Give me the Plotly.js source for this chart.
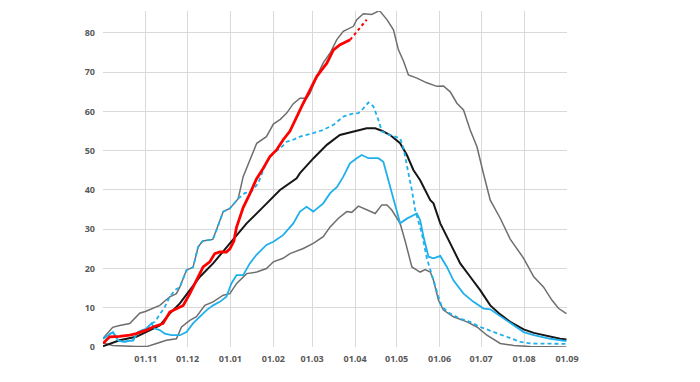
<!DOCTYPE html>
<html>
<head>
<meta charset="utf-8">
<script src="https://cdn.plot.ly/plotly-3.0.1.min.js"></script>
<style>html,body{margin:0;padding:0;background:#fff;}#chart{width:700px;height:382px;}</style>
</head>
<body>
<div id="chart"></div>
<script>
// x values are days since 01.10
const tickDays = [0, 31, 61, 92, 123, 151, 182, 212, 243, 273, 304, 335];
const tickLabels = ['', '01.11', '01.12', '01.01', '01.02', '01.03', '01.04', '01.05', '01.06', '01.07', '01.08', '01.09'];

const maxX = [0,7,12,19.3,26.5,31,41,48.2,53,55.5,60.3,65,68.7,72,79.3,82,86.8,91.6,97.6,101.2,106,111,118,123,128,132.6,137.4,142.2,147,149.5,154.3,159,164,168.8,173.5,180.8,183.2,188,194,199.6,205,209.7,213.3,217,220.5,226.6,233.8,241,245.8,250.7,255.5,260.3,265.1,270,274.8,279.6,286.8,294,303.7,311,318,324.2,329,334.6];
const maxY = [2.2,5,5.5,6,8.6,9.1,10.6,12.8,13.6,15.3,19.6,20.3,25.5,27,27.4,29.8,34.5,35.3,37.8,43.4,47.7,51.9,53.6,56.8,58,59.6,62,63.4,63.4,64.7,68.9,72.4,74.9,78.3,80.4,81.7,83.4,84.9,84.7,85.7,83.4,80.8,75.7,72.8,69.3,68.5,67.3,66.4,66.5,65,62.1,60.4,55.3,51,44,37.4,32.8,27.5,22.6,17.9,15.3,11.9,9.8,8.5];

const minX = [0,7,24,31.4,38.6,45.8,53,56.7,62.7,67.5,73.5,79.5,86.8,91.6,96.5,103.7,111,118,123,130,135,144.6,151.8,159,164,170,176,179.6,184.4,190.5,196.5,201.3,205,208.5,214.5,218,223,226.6,229,232.6,236.3,238.6,242.2,245.8,253,262.8,270,277.2,286.8,296.5,308.5,334.6];
const minY = [1,0.4,0.1,0.1,0.9,1.7,2.1,5.1,6.8,7.7,10.6,11.5,13.2,13.6,16.2,18.7,19.1,20,21.7,22.6,23.8,25.1,26.4,28.1,30.6,32.8,34.5,34.3,35.9,34.9,34,36.2,36.2,34.9,31.5,27.2,20.4,19.6,19.1,19.7,19.1,17,11.9,9.4,7.7,6.4,5.1,3,0.9,0.4,0.1,0];

const meanX = [0,12,24,31.4,41,48.2,55.5,62.7,70,79.5,91.6,103.7,115.7,127.8,139.8,142.2,152,161.6,171,180.8,185.6,190.4,196.5,201.3,207.3,214.5,219.4,224.1,229,236.3,238.6,243.5,250.7,257.9,265.1,272.3,279.6,286.8,294,303.7,311,318,330,334.6];
const meanY = [0.2,1.7,2.6,3.8,5.5,8.5,11.1,14.5,17.9,21.3,26.4,31.5,35.7,40,43,44.3,48.1,51.5,54,54.9,55.3,55.7,55.7,55.1,54,51.9,48.9,45.1,42.5,37.4,36.6,31.5,26.4,21.3,17.9,14.5,10.6,8.3,6.4,4.5,3.6,3,2.1,1.9];

const redX = [0,4.8,12,19.3,24,31.4,36.2,43.4,48.2,53,57.9,62.7,67.5,72.3,77.1,80.7,84.3,89.1,91.6,94.5,96.4,101.2,106,110.8,114.8,120.5,125.3,130.1,135,139.8,144.6,149.5,154.3,157.9,161.6,166.4,171.2,178.5];
const redY = [0.9,2.6,2.7,3,3.4,4.3,5.1,6,8.9,9.8,10.6,13.6,17,20.4,21.7,23.8,24.2,24.2,25,27,30.5,35.5,39,42.8,45,48.5,50.2,52.8,55,58.7,62.1,65.5,68.9,70.6,72.3,75.7,77,78.3];
const redDotX = [178.5,182,186,190.4];
const redDotY = [78.3,79.8,81.6,83.4];

const cyanX = [0,7.2,10.8,14.5,21.7,25.3,31.4,35,37.4,41,44.6,49.4,55.5,60.3,65,70,74.8,79.5,84.3,89.1,92.7,96.4,101.2,106,110.8,118,123,130,137.4,142.2,147,151.8,159,164,169,173.5,178.3,183.2,186.8,191.6,198.8,202.4,207.3,210.9,214.5,219.4,224.1,226.6,229,231.4,235,238.6,243.5,248.3,253,260.3,267.5,274.8,279.6,286.8,294,303.7,311,323,334.6];
const cyanY = [2.1,3.8,1.7,1.3,1.7,3.8,4.7,6,4.7,4.3,3.4,3,3,3.8,6,7.7,9.4,10.6,11.5,12.8,16.2,18.3,18.3,21.3,23.5,26,26.8,28.5,31.5,34.5,35.7,34.5,36.6,39.2,40.8,43.4,46.8,48.1,48.9,48.1,48.1,47.2,40.8,35.7,31.5,32.7,33.6,34,32.3,28.1,23,22.6,23.2,20.4,17,13.6,11.5,9.8,9.6,7.8,6,3.8,3,2.1,1.5];

const dashX = [0,7.2,10.8,14.5,21.7,25.3,31.4,35,37.4,44.6,48.2,52,55.5,60.3,65,68.7,72,79.3,82,86.8,91.6,97.6,102.4,107.2,112,115.7,119.3,123,128,132.6,137.4,142.2,151.8,159,166.4,173.5,179.6,184.4,188,191.6,195.2,198.8,201.3,207.3,214.5,217,220.5,223,225.4,230.2,233.8,236.3,238.6,242.2,244.7,250.7,257.9,265.1,272.3,282,291.6,301.3,308.5,334.6];
const dashY = [2.1,3.8,1.7,1.3,1.7,3.8,4.7,6,6.4,10.2,12.8,14.5,15.3,19.6,20.3,25.5,27,27.4,29.8,34.5,35.3,37.8,39.2,39.6,41.7,45.1,47.7,49.4,50.6,52.3,52.8,53.6,54.5,55.3,56.6,58.7,59.4,59.6,60.8,62.3,61.3,57.9,54.9,54,53.2,50.6,44.3,40,34.9,28.9,22.6,19.6,17,12.8,10.2,8.5,7.2,6.4,5.1,3.8,2.6,1.3,0.9,0.8];

const grey = '#6e6e6e', cyan = '#1fb0ec';
const traces = [
  {x: maxX, y: maxY, mode: 'lines', line: {color: grey, width: 1.5}},
  {x: minX, y: minY, mode: 'lines', line: {color: grey, width: 1.5}},
  {x: meanX, y: meanY, mode: 'lines', line: {color: '#161616', width: 2}},
  {x: cyanX, y: cyanY, mode: 'lines', line: {color: cyan, width: 1.8}},
  {x: dashX, y: dashY, mode: 'lines', line: {color: cyan, width: 1.8, dash: '4px,3px'}},
  {x: redX, y: redY, mode: 'lines', line: {color: '#ff0000', width: 2.8}},
  {x: redDotX, y: redDotY, mode: 'lines', line: {color: '#ff0000', width: 2, dash: 'dot'}}
];

const tickFont = {family: 'Open Sans, Liberation Sans, sans-serif', size: 9, color: '#595959', weight: 'bold'};
const layout = {
  width: 700, height: 382,
  margin: {l: 103, r: 133, t: 11, b: 35},
  paper_bgcolor: '#fff', plot_bgcolor: '#fff',
  showlegend: false,
  xaxis: {
    range: [0, 335], tickmode: 'array', tickvals: tickDays, ticktext: tickLabels,
    showgrid: true, gridcolor: '#d9d9d9', gridwidth: 1, zeroline: false, showline: false,
    ticks: '', tickfont: tickFont, ticklabelstandoff: 5
  },
  yaxis: {
    range: [0, 85.6], tickmode: 'array', tickvals: [0,10,20,30,40,50,60,70,80],
    showgrid: true, gridcolor: '#d9d9d9', gridwidth: 1, zeroline: false, showline: false,
    ticks: '', tickfont: tickFont, ticklabelstandoff: 7
  }
};
Plotly.newPlot('chart', traces, layout, {staticPlot: true, displayModeBar: false});
</script>
</body>
</html>
